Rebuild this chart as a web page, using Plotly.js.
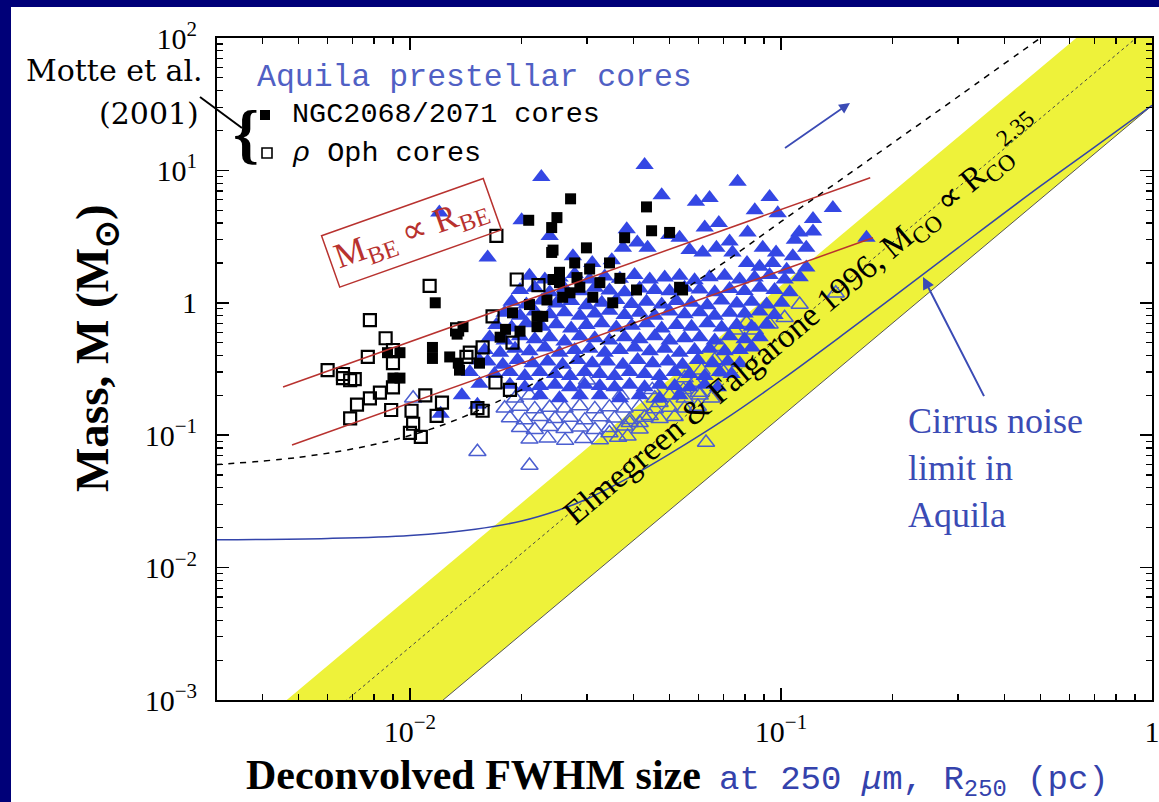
<!DOCTYPE html>
<html><head><meta charset="utf-8">
<script src="https://cdn.plot.ly/plotly-3.0.1.min.js"></script>
<style>html,body{margin:0;padding:0;background:#000078;}#chart{width:1159px;height:802px;}</style>
</head><body><div id="chart"></div>
<script>
// ---------- axis ticks ----------
const xTickVals = [0.01, 0.1, 1];
const xTickText = ['10<sup>\u22122</sup>', '10<sup>\u22121</sup>', '1'];
const yTickVals = [0.001, 0.01, 0.1, 1, 10, 100];
const yTickText = ['10<sup>\u22123</sup>', '10<sup>\u22122</sup>', '10<sup>\u22121</sup>', '1', '10<sup>1</sup>', '10<sup>2</sup>'];
const xMinor = [0.004,0.005,0.006,0.007,0.008,0.009,0.02,0.03,0.04,0.05,0.06,0.07,0.08,0.09,0.2,0.3,0.4,0.5,0.6,0.7,0.8,0.9];
const yMinor = [0.002,0.003,0.004,0.005,0.006,0.007,0.008,0.009,0.02,0.03,0.04,0.05,0.06,0.07,0.08,0.09,0.2,0.3,0.4,0.5,0.6,0.7,0.8,0.9,2,3,4,5,6,7,8,9,20,30,40,50,60,70,80,90];

// ---------- Elmegreen & Falgarone band (M ∝ R^2.35) ----------
const bandR = [0.003, 1.0];
const bandUpperM = [3.56e-4, 302];
const bandCenterM = [1.48e-4, 126];
const bandLowerM = [3.64e-5, 30.9];

// ---------- cirrus noise limit (blue curve) ----------
const cirrusR = [0.003,0.006,0.01,0.015,0.02,0.025,0.03,0.04,0.05,0.07,0.1,0.15,0.2,0.3,0.5,0.7,1.0];
const cirrusM = [0.0162,0.0166,0.0175,0.0195,0.0225,0.027,0.033,0.05,0.072,0.13,0.26,0.6,1.1,2.6,7.6,15,31];

// ---------- black dashed curve ----------
const dashR = [0.003,0.005,0.008,0.012,0.018,0.025,0.035,0.05,0.07,0.1,0.15,0.2,0.3,0.5];
const dashM = [0.060,0.068,0.085,0.117,0.19,0.31,0.55,1.06,2.0,4.1,9.1,16.1,36,100];

// ---------- Bonnor-Ebert lines (M_BE ∝ R_BE) ----------
const beUpperR = [0.00455, 0.174];
const beUpperM = [0.231, 8.8];
const beLowerR = [0.00481, 0.177];
const beLowerM = [0.0843, 3.1];

// ---------- Motte et al. (2001) NGC2068/2071 cores (filled squares) ----------
const ngcR = [0.0271,0.0434,0.0249,0.0241,0.0209,0.0299,0.0379,0.0448,0.0501,0.0241,0.0253,0.0258,0.0228,0.0189,0.0181,0.0198,0.0139,0.0134,0.0115,0.0115,0.0128,0.0135,0.0136,0.0094,0.0087,0.0117,0.0345,0.0325,0.0311,0.0543,0.0253,0.0282,0.0154,0.022,0.022,0.027,0.0287,0.0352,0.0408,0.0243,0.0243,0.0533,0.0175,0.009,0.0094,0.0234,0.0305,0.0368,0.021,0.0278];
const ngcM = [6.1,5.3,4.4,3.7,4.2,2.6,3.1,3.5,3.4,2.4,1.42,1.1,0.79,0.84,0.63,0.61,0.66,0.58,0.46,0.38,0.39,0.35,0.31,0.27,0.42,1.0,2.0,1.42,1.1,1.25,1.7,1.55,0.35,0.66,0.79,1.19,1.31,1.0,1.25,1.5,2.5,1.31,0.55,0.27,0.42,1.05,1.8,1.53,0.97,2.0];

// ---------- rho Oph cores (open squares) ----------
const ophR = [0.0171,0.0113,0.0078,0.0194,0.0222,0.0167,0.006,0.0066,0.0069,0.0071,0.0077,0.009,0.009,0.009,0.0078,0.0072,0.0069,0.0089,0.0101,0.0102,0.01,0.0107,0.0122,0.0118,0.0152,0.0157,0.017,0.0186,0.0145,0.0157,0.0142,0.0134,0.0189,0.0086,0.0083,0.011,0.0066];
const ophM = [3.2,1.34,0.74,1.5,1.36,0.79,0.31,0.27,0.26,0.265,0.39,0.44,0.35,0.23,0.19,0.17,0.134,0.155,0.153,0.122,0.104,0.097,0.176,0.14,0.16,0.153,0.25,0.22,0.42,0.46,0.39,0.63,0.5,0.54,0.21,0.2,0.29];

// ---------- Aquila prestellar cores (filled triangles) ----------
const aqR = [
 0.0226,0.0429,0.0477,0.059,0.0642,0.0764,0.0932,0.012,0.020,0.0238,0.0384,0.138,0.122,0.112,0.170,0.068,0.0623,0.109,0.0813,0.0533,0.050,0.0727,0.0893,0.117,0.0162,0.0275,0.031,0.035,0.0375,0.041,0.0437,0.0567,0.0615,0.067,0.074,0.097,0.1076,0.117,0.1036,0.095,0.0876,0.081,0.085,0.098,0.122,0.0154,0.0145,0.0154,0.0152,0.0121,0.0138,
 0.0210,0.0231,0.0253,0.0278,0.0305,0.0335,0.0368,0.0403,0.0443,0.0486,0.0533,0.0585,0.0642,0.0705,0.0774,0.0849,0.0932,0.1023,0.1123,
 0.0198,0.0217,0.0238,0.0261,0.0287,0.0315,0.0345,0.0379,0.0416,0.0457,0.0501,0.0550,0.0604,0.0663,0.0727,0.0798,0.0876,0.0961,0.1056,
 0.0188,0.0206,0.0227,0.0248,0.0272,0.0299,0.0329,0.0360,0.0396,0.0434,0.0477,0.0523,0.0574,0.0633,0.0692,0.0760,0.0834,0.0915,0.1004,
 0.0180,0.0198,0.0217,0.0238,0.0261,0.0287,0.0315,0.0345,0.0379,0.0416,0.0457,0.0501,0.0550,0.0604,0.0663,0.0727,0.0798,0.0876,0.0961,
 0.0171,0.0188,0.0206,0.0227,0.0248,0.0272,0.0299,0.0329,0.0360,0.0396,0.0434,0.0477,0.0523,0.0574,0.0633,0.0692,0.0760,0.0834,0.0915,
 0.0164,0.0180,0.0198,0.0217,0.0238,0.0261,0.0287,0.0315,0.0345,0.0379,0.0416,0.0457,0.0501,0.0550,0.0604,0.0663,0.0727,0.0798,0.0876,
 0.0159,0.0175,0.0192,0.0210,0.0231,0.0253,0.0278,0.0305,0.0335,0.0368,0.0403,0.0443,0.0486,0.0533,0.0585,0.0642,0.0705,0.0774,0.0834,
 0.0162,0.0178,0.0195,0.0214,0.0235,0.0258,0.0283,0.0310,0.0340,0.0375,0.0411,0.0451,0.0496,0.0543,0.0597,0.0655,0.0719,0.0774,
 0.0169,0.0186,0.0204,0.0224,0.0246,0.0270,0.0296,0.0325,0.0356,0.0391,0.0429,0.0471,0.0517,0.0567,0.0623,0.0684,0.0736,
 0.0186,0.0204,0.0224,0.0246,0.0270,0.0296,0.0325,0.0356,0.0391,0.0429,0.0471,0.0517,0.0567,0.0623,0.0676,
 0.0224,0.0253,0.0287,0.0325,0.0368,0.0416,0.0471,0.0533];
const aqM = [
 8.9,11,6.5,5.8,6.2,8.2,6.3,4.8,4.2,3.2,3.6,5.2,4.3,3.4,3.1,4.0,3.7,3.0,3.4,3.1,3.25,2.9,2.6,2.6,2.2,2.25,2.0,2.1,2.6,2.85,2.6,2.5,2.4,2.6,2.4,2.4,2.25,1.85,1.78,2.0,1.87,2.0,5.0,4.75,3.45,0.366,0.30,0.245,0.17,0.145,0.2,
 1.6,1.5,1.55,1.65,1.5,1.58,1.52,1.62,1.5,1.55,1.6,1.48,1.56,1.6,1.5,1.55,1.62,1.5,1.56,
 1.25,1.3,1.2,1.28,1.22,1.3,1.24,1.2,1.28,1.25,1.22,1.3,1.26,1.2,1.27,1.23,1.3,1.25,1.2,
 1.02,0.97,1.04,0.99,1.03,0.96,1.0,1.05,0.98,1.02,0.97,1.03,1.0,0.96,1.04,0.99,1.02,0.97,1.0,
 0.84,0.8,0.86,0.82,0.85,0.8,0.83,0.87,0.81,0.84,0.8,0.86,0.82,0.85,0.8,0.84,0.83,0.86,0.81,
 0.68,0.65,0.7,0.66,0.69,0.64,0.68,0.7,0.65,0.67,0.7,0.64,0.68,0.66,0.7,0.65,0.68,0.66,0.69,
 0.55,0.52,0.56,0.53,0.55,0.51,0.56,0.54,0.52,0.55,0.53,0.56,0.52,0.54,0.55,0.52,0.56,0.53,0.55,
 0.44,0.42,0.45,0.43,0.46,0.42,0.44,0.45,0.42,0.44,0.46,0.43,0.45,0.42,0.44,0.45,0.43,0.44,0.46,
 0.36,0.34,0.37,0.35,0.36,0.34,0.37,0.35,0.36,0.34,0.37,0.35,0.36,0.34,0.37,0.35,0.36,0.35,
 0.29,0.3,0.28,0.3,0.29,0.28,0.3,0.29,0.28,0.3,0.29,0.28,0.3,0.29,0.28,0.3,0.29,
 0.24,0.23,0.235,0.24,0.23,0.24,0.235,0.23,0.24,0.23,0.24,0.235,0.23,0.24,0.23,
 0.2,0.19,0.2,0.2,0.19,0.2,0.19,0.2];

// ---------- Aquila cores (open triangles) ----------
const aqOpenR = [
 0.1405,0.1123,0.1023,0.0932,0.085,0.0808,0.0751,0.0688,0.0663,0.0611,0.0585,0.0546,0.0471,0.0443,0.0416,0.0391,0.0386,0.0345,0.0628,0.0102,0.0152,0.021,
 0.0192,0.0210,0.0457,0.0501,0.0550,0.0604,0.0650,
 0.0180,0.0198,0.0217,0.0238,0.0261,0.0287,0.0315,0.0345,0.0379,0.0416,0.0457,0.0501,0.0550,0.0597,
 0.0186,0.0204,0.0224,0.0246,0.0270,0.0296,0.0325,0.0356,0.0391,0.0429,0.0471,0.0517,
 0.0198,0.0217,0.0238,0.0261,0.0287,0.0315,0.0345,0.0379,0.0416,
 0.0210,0.0235,0.0262,0.0293,0.0325,0.0364,
 0.030,0.045,0.055,0.037,0.060,0.070];
const aqOpenM = [
 1.18,0.97,0.77,0.69,0.62,0.706,0.62,0.465,0.37,0.31,0.25,0.22,0.176,0.14,0.124,0.124,0.098,0.104,0.088,0.19,0.075,0.059,
 0.19,0.2,0.19,0.2,0.19,0.2,0.19,
 0.16,0.165,0.158,0.162,0.16,0.166,0.158,0.163,0.16,0.165,0.158,0.162,0.16,0.165,
 0.135,0.13,0.138,0.133,0.136,0.13,0.137,0.134,0.131,0.136,0.133,0.138,
 0.114,0.11,0.116,0.112,0.115,0.11,0.114,0.117,0.111,
 0.093,0.095,0.091,0.094,0.092,0.096,
 0.26,0.22,0.27,0.2,0.21,0.3];

// ---------- styling ----------
const SERIF = 'Liberation Serif, Times New Roman, serif';
const WSERIF = 'DejaVu Serif, Liberation Serif, serif';
const MONO = 'Liberation Mono, Courier New, monospace';
const NAVY = '#000078';
const BLUE = '#3447e4';
const RED = '#b8322f';
const YEL = '#eef23a';

const traces = [
  {x:[bandR[0],bandR[1],bandR[1],bandR[0]], y:[bandUpperM[0],bandUpperM[1],bandLowerM[1],bandLowerM[0]],
   mode:'lines', fill:'toself', fillcolor:YEL, line:{width:0,color:YEL}, hoverinfo:'skip'},
  {x:bandR, y:bandLowerM, mode:'lines', line:{color:'#555',width:1}},
  {x:bandR, y:bandCenterM, mode:'lines', line:{color:'#444',width:1,dash:'dot'}},
  {x:cirrusR, y:cirrusM, mode:'lines', line:{color:'#3344aa',width:1.5,shape:'spline'}},
  {x:aqOpenR, y:aqOpenM, mode:'markers', marker:{symbol:'triangle-up-open',size:15,color:'#4b5ed0',line:{width:1.5,color:'#4b5ed0'}}},
  {x:aqR, y:aqM, mode:'markers', marker:{symbol:'triangle-up',size:16,color:BLUE,line:{width:0}}},
  {x:ophR, y:ophM, mode:'markers', marker:{symbol:'square-open',size:12,color:'#000',line:{width:2.2,color:'#000'}}},
  {x:ngcR, y:ngcM, mode:'markers', marker:{symbol:'square',size:11,color:'#000',line:{width:0}}},
  {x:beUpperR, y:beUpperM, mode:'lines', line:{color:RED,width:1.5}},
  {x:beLowerR, y:beLowerM, mode:'lines', line:{color:RED,width:1.5}},
  {x:dashR, y:dashM, mode:'lines', line:{color:'#000',width:1.5,dash:'6px,6px',shape:'spline'}}
];

function px2paperX(p){return (p-217)/935;}
function px2paperY(p){return (700-p)/662;}

const annotations = [
  {xref:'paper',yref:'paper',x:px2paperX(255),y:px2paperY(77),xanchor:'left',yanchor:'middle',showarrow:false,
   text:'Aquila prestellar cores',font:{family:MONO,size:31.5,color:'#5060c4'}},
  {xref:'paper',yref:'paper',x:px2paperX(290),y:px2paperY(115),xanchor:'left',yanchor:'middle',showarrow:false,
   text:'NGC2068/2071 cores',font:{family:MONO,size:28.5,color:'#000'}},
  {xref:'paper',yref:'paper',x:px2paperX(290),y:px2paperY(153),xanchor:'left',yanchor:'middle',showarrow:false,
   text:'<i>\u03c1</i> Oph cores',font:{family:MONO,size:28.5,color:'#000'}},
  {xref:'paper',yref:'paper',x:px2paperX(205),y:px2paperY(70),xanchor:'right',yanchor:'middle',showarrow:false,
   text:'Motte et al.',font:{family:WSERIF,size:30,color:'#000'}},
  {xref:'paper',yref:'paper',x:px2paperX(201),y:px2paperY(113),xanchor:'right',yanchor:'middle',showarrow:false,
   text:'(2001)',font:{family:WSERIF,size:30,color:'#000'}},
  {xref:'paper',yref:'paper',x:px2paperX(246),y:px2paperY(133),xanchor:'center',yanchor:'middle',showarrow:false,
   text:'<b>{</b>',font:{family:SERIF,size:66,color:'#000'}},
  {xref:'paper',yref:'paper',x:px2paperX(411),y:px2paperY(233),xanchor:'center',yanchor:'middle',showarrow:false,
   text:'M<sub>BE</sub> \u221d R<sub>BE</sub>',textangle:-19.5,font:{family:SERIF,size:35,color:RED},
   bordercolor:RED,borderwidth:1.5,borderpad:5,bgcolor:'rgba(255,255,255,0)'},
  {xref:'paper',yref:'paper',x:px2paperX(802),y:px2paperY(320),xanchor:'center',yanchor:'middle',showarrow:false,
   text:'Elmegreen &amp; Falgarone 1996, M<sub>CO</sub> \u221d R<sub>CO</sub><sup>2.35</sup>',textangle:-40,
   font:{family:SERIF,size:33.5,color:'#000'}},
  {xref:'paper',yref:'paper',x:px2paperX(906),y:px2paperY(468),xanchor:'left',yanchor:'middle',align:'left',showarrow:false,
   text:'Cirrus noise<br>limit in<br>Aquila',font:{family:SERIF,size:36,color:'#3b4bb5'}},
  {xref:'paper',yref:'paper',x:px2paperX(923),y:px2paperY(277),ax:64,ay:125,showarrow:true,text:' ',
   arrowhead:2,arrowsize:1.2,arrowwidth:2,arrowcolor:'#3b4bb5'},
  {xref:'paper',yref:'paper',x:px2paperX(850),y:px2paperY(103),ax:-68,ay:47,showarrow:true,text:' ',
   arrowhead:2,arrowsize:1.2,arrowwidth:1.8,arrowcolor:'#3b4bb5'},
  {xref:'paper',yref:'paper',x:px2paperX(95),y:px2paperY(348),xanchor:'center',yanchor:'middle',showarrow:false,textangle:-90,
   text:'<b>Mass, M (M<sub>\u2299</sub>)</b>',font:{family:SERIF,size:47,color:'#000'}},
  {xref:'paper',yref:'paper',x:px2paperX(703),y:px2paperY(775),xanchor:'right',yanchor:'middle',showarrow:false,
   text:'<b>Deconvolved FWHM size</b>',font:{family:SERIF,size:42,color:'#000'}},
  {xref:'paper',yref:'paper',x:px2paperX(717),y:px2paperY(782),xanchor:'left',yanchor:'middle',showarrow:false,
   text:'at 250 <i>\u03bc</i>m, R<sub>250</sub> (pc)',font:{family:MONO,size:34,color:'#3442ac'}}
];

const shapes = [
  {type:'rect',xref:'paper',yref:'paper',x0:px2paperX(11),x1:px2paperX(1165),y0:px2paperY(810),y1:px2paperY(7),
   fillcolor:'#ffffff',line:{width:0},layer:'below'},
  {type:'line',xref:'paper',yref:'paper',x0:px2paperX(200),y0:px2paperY(97),x1:px2paperX(242),y1:px2paperY(128),
   line:{color:'#000',width:2}},
  {type:'rect',xref:'paper',yref:'paper',x0:px2paperX(260),x1:px2paperX(270),y0:px2paperY(120),y1:px2paperY(110),
   fillcolor:'#000',line:{width:0}},
  {type:'rect',xref:'paper',yref:'paper',x0:px2paperX(262),x1:px2paperX(272),y0:px2paperY(158),y1:px2paperY(148),
   fillcolor:'rgba(0,0,0,0)',line:{color:'#000',width:1.6}}
];

const axisCommon = {
  type:'log', tickmode:'array', ticks:'inside', ticklen:12, tickwidth:1.5, tickcolor:'#000',
  showline:true, linecolor:'#000', linewidth:2, mirror:'ticks', showgrid:false, zeroline:false,
  ticklabeloverflow:'allow',
  tickfont:{family:SERIF,size:30,color:'#000'}
};

const layout = {
  width:1159, height:802,
  margin:{l:217,r:7,t:38,b:102,pad:0},
  paper_bgcolor:NAVY, plot_bgcolor:'#ffffff',
  showlegend:false,
  xaxis:Object.assign({}, axisCommon, {range:[-2.52,0], tickvals:xTickVals, ticktext:xTickText, ticklabelstandoff:4,
    minor:{tickmode:'array',tickvals:xMinor,ticks:'inside',ticklen:6,tickwidth:1.2,tickcolor:'#000',showgrid:false}}),
  yaxis:Object.assign({}, axisCommon, {range:[-3,2], tickvals:yTickVals, ticktext:yTickText, ticklabelstandoff:12,
    minor:{tickmode:'array',tickvals:yMinor,ticks:'inside',ticklen:6,tickwidth:1.2,tickcolor:'#000',showgrid:false}}),
  annotations:annotations,
  shapes:shapes
};

Plotly.newPlot('chart', traces, layout, {displayModeBar:false, staticPlot:true});
</script></body></html>
